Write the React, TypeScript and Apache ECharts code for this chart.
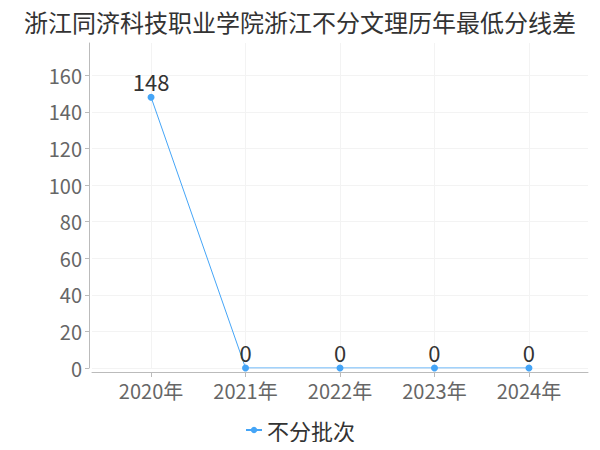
import React, { useEffect, useRef } from "react";
import * as echarts from "echarts";

const titleText = "浙江同济科技职业学院浙江不分文理历年最低分线差";
const categories = ["2020年", "2021年", "2022年", "2023年", "2024年"];
const seriesName = "不分批次";
const values = [148, 0, 0, 0, 0];
const yTickValues = [0, 20, 40, 60, 80, 100, 120, 140, 160];

const FONT = "'Noto Sans CJK SC', sans-serif";

export default function App() {
  const ref = useRef<HTMLDivElement>(null);
  useEffect(() => {
    if (!ref.current) return;
    const chart = echarts.init(ref.current, null, { renderer: "svg" });
    const idx = categories.map((_, i) => i);
    const maxV = Math.max(...values) * 1.2;
    chart.setOption({
      animation: false,
      title: {
        text: titleText,
        left: "center",
        top: 4,
        textStyle: { fontSize: 24, fontWeight: "normal", color: "#333", fontFamily: FONT },
      },
      legend: {
        bottom: 4,
        left: "center",
        itemWidth: 16,
        itemHeight: 8,
        itemGap: 4,
        textStyle: { fontSize: 22, color: "#333", fontFamily: FONT },
        data: [seriesName],
      },
      grid: { left: 92, right: 12, top: 43, bottom: 82 },
      xAxis: {
        type: "value",
        min: -0.625,
        max: categories.length - 1 + 0.625,
        offset: 4,
        axisLine: { show: true, onZero: false, lineStyle: { color: "#bbb" } },
        axisTick: { show: true, customValues: idx, length: 5, lineStyle: { color: "#bbb" } },
        axisLabel: {
          customValues: idx,
          margin: 8,
          fontSize: 20,
          color: "#666",
          fontFamily: FONT,
          formatter: (v: number) => categories[Math.round(v)] ?? "",
        },
        splitLine: { show: true, lineStyle: { color: "#f3f3f3" } },
      },
      yAxis: {
        type: "value",
        min: 0,
        max: maxV,
        interval: 20,
        offset: 3,
        axisLine: { show: true, onZero: false, lineStyle: { color: "#bbb" } },
        axisTick: { show: true, length: 4, customValues: yTickValues, lineStyle: { color: "#bbb" } },
        axisLabel: {
          customValues: yTickValues,
          fontSize: 20,
          color: "#666",
          margin: 7,
          fontFamily: FONT,
        },
        splitLine: { show: true, lineStyle: { color: "#f3f3f3" } },
      },
      series: [
        {
          name: seriesName,
          type: "line",
          data: values.map((v, i) => [i, v]),
          symbol: "circle",
          symbolSize: 7,
          itemStyle: { color: "#45a5f7" },
          lineStyle: { color: "#45a5f7", width: 1 },
          label: {
            show: true,
            position: "top",
            distance: 2,
            fontSize: 22,
            color: "#333",
            fontFamily: FONT,
            formatter: (p: any) => String(p.value[1]),
          },
        },
      ],
    });
    return () => chart.dispose();
  }, []);
  return <div ref={ref} style={{ width: 600, height: 450, margin: -8 }} />;
}
